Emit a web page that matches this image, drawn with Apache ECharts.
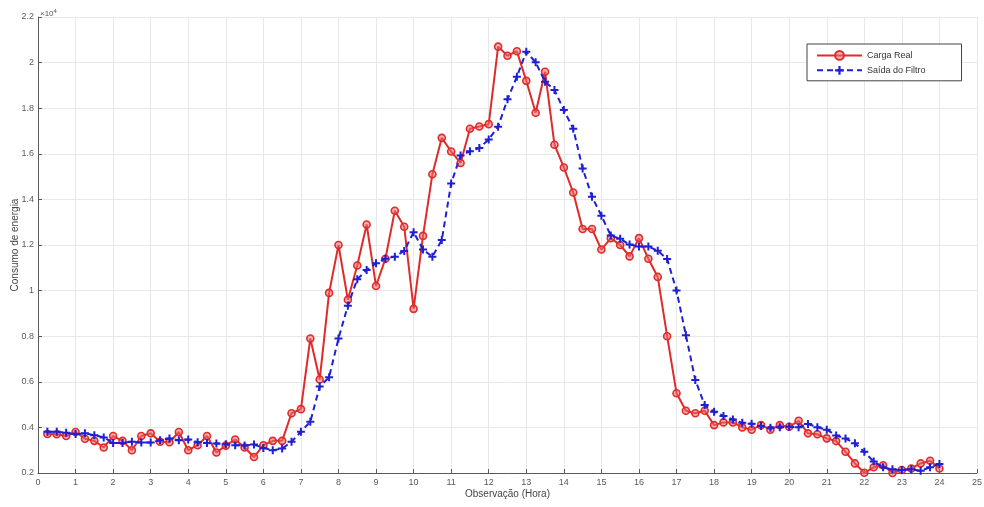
<!DOCTYPE html>
<html>
<head>
<meta charset="utf-8">
<script src="https://cdn.jsdelivr.net/npm/echarts@6/dist/echarts.min.js"></script>
<style>
html,body{margin:0;padding:0;background:#fff;}
#chart{width:984px;height:507px;}
</style>
</head>
<body>
<div id="chart"></div>
<script>
var hours = [0.25,0.5,0.75,1,1.25,1.5,1.75,2,2.25,2.5,2.75,3,3.25,3.5,3.75,4,
  4.25,4.5,4.75,5,5.25,5.5,5.75,6,6.25,6.5,6.75,7,7.25,7.5,7.75,8,
  8.25,8.5,8.75,9,9.25,9.5,9.75,10,10.25,10.5,10.75,11,11.25,11.5,11.75,12,
  12.25,12.5,12.75,13,13.25,13.5,13.75,14,14.25,14.5,14.75,15,15.25,15.5,15.75,16,
  16.25,16.5,16.75,17,17.25,17.5,17.75,18,18.25,18.5,18.75,19,19.25,19.5,19.75,20,
  20.25,20.5,20.75,21,21.25,21.5,21.75,22,22.25,22.5,22.75,23,23.25,23.5,23.75,24];

var cargaReal = [3710,3700,3620,3800,3500,3410,3120,3620,3410,3000,3620,3740,3370,3350,3800,3000,
  3220,3620,2900,3200,3470,3120,2700,3220,3410,3410,4620,4800,7900,6100,9900,12000,
  9600,11100,12900,10200,11400,13500,12800,9200,12400,15100,16700,16100,15600,17100,17200,17300,
  20700,20300,20500,19200,17800,19600,16400,15400,14300,12700,12700,11800,12300,12000,11500,12300,
  11400,10600,8000,5500,4730,4620,4730,4100,4220,4220,4000,3900,4100,3900,4100,4030,
  4290,3740,3700,3520,3400,2930,2420,2010,2250,2340,2000,2130,2200,2420,2540,2200];

var saidaFiltro = [3810,3810,3760,3710,3740,3660,3560,3320,3320,3370,3340,3340,3440,3510,3440,3470,
  3350,3320,3290,3260,3220,3210,3250,3100,3000,3070,3370,3810,4250,5790,6200,7900,
  9340,10500,10900,11200,11400,11490,11740,12560,11800,11490,12220,14700,15930,16110,16250,16630,
  17190,18390,19380,20480,20010,19160,18800,17920,17100,15360,14120,13280,12420,12270,12020,11930,
  11930,11750,11390,10000,8040,6080,4980,4690,4500,4350,4200,4160,4060,3990,4010,4030,
  4010,4150,4010,3900,3650,3510,3300,2930,2500,2250,2160,2130,2160,2100,2250,2400];

var seriesNames = ['Carga Real', 'Saída do Filtro'];
var xTitle = 'Observação (Hora)';
var yTitle = 'Consumo de energia';

function pairs(xs, ys){ return xs.map(function(x,i){ return [x, ys[i]]; }); }

var labelColor = '#5a5a5a';
var axisColor = '#5a5a5a';
var gridColor = '#e8e8e8';
var font = 'Liberation Sans, Arial, sans-serif';

var chart = echarts.init(document.getElementById('chart'), null, {renderer:'canvas'});
chart.setOption({
  animation:false,
  backgroundColor:'#fff',
  textStyle:{fontFamily:font},
  grid:{left:38, right:7, top:17, bottom:34, containLabel:false, outerBoundsMode:'none'},
  xAxis:{
    type:'value', min:0, max:25, interval:1,
    name:xTitle, nameLocation:'middle', nameGap:16, nameMoveOverlap:false,
    nameTextStyle:{color:'#444', fontSize:10, fontFamily:font, verticalAlign:'top'},
    axisLine:{show:true, onZero:false, lineStyle:{color:axisColor, width:1}},
    axisTick:{show:true, inside:true, length:4, lineStyle:{color:axisColor}},
    axisLabel:{color:labelColor, fontSize:9, margin:5, showMaxLabel:true, showMinLabel:true},
    splitLine:{show:true, lineStyle:{color:gridColor, width:1}}
  },
  yAxis:{
    type:'value', min:2000, max:22000, interval:2000,
    name:yTitle, nameLocation:'middle', nameGap:23, nameRotate:90, nameMoveOverlap:false,
    nameTextStyle:{color:'#444', fontSize:10, fontFamily:font, verticalAlign:'middle'},
    axisLine:{show:true, onZero:false, lineStyle:{color:axisColor, width:1}},
    axisTick:{show:true, inside:true, length:4, lineStyle:{color:axisColor}},
    axisLabel:{color:labelColor, fontSize:9, margin:4, showMaxLabel:true,
      formatter:function(v){ return String(Math.round(v/100)/100); }},
    splitLine:{show:true, lineStyle:{color:gridColor, width:1}}
  },
  legend:{
    orient:'vertical', left:807, top:44,
    padding:[6,36,6,9], itemGap:5, itemWidth:45, itemHeight:11,
    borderColor:'#444', borderWidth:1, backgroundColor:'#fff',
    textStyle:{color:'#333', fontSize:9, fontFamily:font},
    data:seriesNames
  },
  graphic:[{
    type:'text', left:40, top:8,
    style:{
      text:'{a|×10}{b|4}',
      rich:{
        a:{fontSize:8, fill:'#555', fontFamily:font},
        b:{fontSize:6, fill:'#555', fontFamily:font, verticalAlign:'top', padding:[0,0,5,0]}
      }
    }
  }],
  series:[
    {
      name:seriesNames[0], type:'line', data:pairs(hours, cargaReal),
      symbol:'circle', symbolSize:7, showAllSymbol:true,
      lineStyle:{color:'#e02b2b', width:2},
      itemStyle:{color:'rgba(236,110,110,0.55)', borderColor:'#e02b2b', borderWidth:1.6},
      z:2
    },
    {
      name:seriesNames[1], type:'line', data:pairs(hours, saidaFiltro),
      symbol:'path://M-1,-4H1V-1H4V1H1V4H-1V1H-4V-1H-1Z', symbolSize:8, showAllSymbol:true,
      lineStyle:{color:'#1f1fd6', width:2, type:[6,4]},
      itemStyle:{color:'#1f1fd6', borderWidth:0},
      z:3
    }
  ]
});
</script>
</body>
</html>
